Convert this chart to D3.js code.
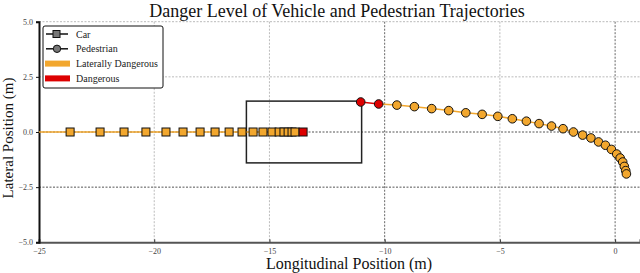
<!DOCTYPE html>
<html lang="en">
<head>
<meta charset="utf-8">
<script src="https://cdn.jsdelivr.net/npm/d3@7"></script>
<style type="text/css">
    body { margin: 0; background: #fff; }
    text { font-family: "Liberation Serif", "DejaVu Serif", serif; }
    .tick text { font-size: 8px; fill: #444; font-family: "Liberation Serif", serif; }
</style>
</head>
<body>
<script>
// car trajectory (y = 0), first point sits just left of the visible area
let carX = [-25.2, -23.65, -22.35, -21.31, -20.36, -19.49, -18.75, -18.01, -17.36, -16.75, -16.19,
            -15.71, -15.28, -14.89, -14.58, -14.37, -14.19, -14.02, -13.89, -13.54];
let carY = carX.map(() => 0);
let carLevel = ["lat", "lat", "lat", "lat", "lat", "lat", "lat", "lat", "lat", "lat", "lat",
                "lat", "lat", "lat", "lat", "lat", "lat", "lat", "lat", "dan"];

let pedX = [-11.04, -10.26, -9.47, -8.71, -7.96, -7.22, -6.48, -5.77, -5.09, -4.46, -3.85, -3.30, -2.76,
            -2.26, -1.81, -1.41, -1.05, -0.72, -0.42, -0.16, 0.07, 0.22, 0.33, 0.40, 0.46, 0.49];
let pedY = [1.36, 1.27, 1.22, 1.15, 1.06, 0.97, 0.87, 0.80, 0.71, 0.60, 0.49, 0.38, 0.27,
            0.15, 0.00, -0.14, -0.27, -0.45, -0.60, -0.79, -1.00, -1.18, -1.36, -1.56, -1.75, -1.90];
let pedLevel = ["dan", "dan"].concat(d3.range(24).map(() => "lat"));

// danger zone box
let zoneX = [-16, -11];
let zoneY = [-1.4, 1.4];

let xTicks = [-25, -20, -15, -10, -5, 0];
let yTicks = [-5, -2.5, 0, 2.5, 5];

let levelColor = { lat: "#f2a72e", dan: "#dd0000" };

let w = 640, h = 273;
let mLeft = 39, mRight = 640, mTop = 21.7, mBottom = 242.3;

let svg = d3.select("body").append("svg").attr("width", w).attr("height", h);

let xScale = d3.scaleLinear().domain([-25, 1.08]).range([mLeft, mRight]);
let yScale = d3.scaleLinear().domain([-5, 5]).range([mBottom, mTop]);

svg.append("defs").append("clipPath").attr("id", "plot")
    .append("rect").attr("x", mLeft).attr("y", mTop - 6).attr("width", mRight - mLeft).attr("height", mBottom - mTop + 6);

// grid
let grid = svg.append("g");
grid.selectAll(".vg").data(xTicks.slice(1)).enter().append("line")
    .attr("x1", d => xScale(d)).attr("x2", d => xScale(d))
    .attr("y1", mTop).attr("y2", mBottom)
    .attr("stroke", d => (d === -10 || d === 0) ? "#666" : "#bbb")
    .attr("stroke-width", 1).attr("stroke-dasharray", "2,1.5");
grid.selectAll(".hg").data(yTicks.slice(1)).enter().append("line")
    .attr("x1", mLeft).attr("x2", mRight)
    .attr("y1", d => yScale(d)).attr("y2", d => yScale(d))
    .attr("stroke", d => (d === 0 || d === -2.5) ? "#555" : "#bbb")
    .attr("stroke-width", 1).attr("stroke-dasharray", "2,1.5");

// axes
let xAxis = d3.axisBottom(xScale).tickValues(xTicks).tickFormat(d3.format("d")).tickSize(-3).tickPadding(6);
let yAxis = d3.axisLeft(yScale).tickValues(yTicks).tickFormat(d3.format(".1f")).tickSize(3).tickPadding(3);

let gx = svg.append("g").attr("transform", "translate(0," + mBottom + ")").call(xAxis);
gx.select(".domain").attr("stroke", "#555").attr("stroke-width", 2);
gx.selectAll(".tick line").attr("stroke", "#333");

let gy = svg.append("g").attr("transform", "translate(" + mLeft + ",0)").call(yAxis);
gy.select(".domain").attr("stroke", "#111").attr("stroke-width", 2);
gy.selectAll(".tick line").attr("stroke", "#111");

// zone rectangle
svg.append("rect")
    .attr("x", xScale(zoneX[0])).attr("y", yScale(zoneY[1]))
    .attr("width", xScale(zoneX[1]) - xScale(zoneX[0]))
    .attr("height", yScale(zoneY[0]) - yScale(zoneY[1]))
    .attr("fill", "none").attr("stroke", "#222").attr("stroke-width", 1.5);

let plot = svg.append("g").attr("clip-path", "url(#plot)");

function drawTrack(xs, ys, levels, shape) {
    let pts = xs.map((x, i) => ({ x: x, y: ys[i], level: levels[i] }));
    let segs = pts.slice(1).map((p, i) => ({ a: pts[i], b: p }));
    plot.selectAll(null).data(segs).enter().append("line")
        .attr("x1", d => xScale(d.a.x)).attr("y1", d => yScale(d.a.y))
        .attr("x2", d => xScale(d.b.x)).attr("y2", d => yScale(d.b.y))
        .attr("stroke", d => levelColor[d.a.level === "dan" && d.b.level === "dan" ? "dan" : "lat"])
        .attr("stroke-width", 1.5);
    if (shape === "square") {
        plot.selectAll(null).data(pts).enter().append("rect")
            .attr("x", d => xScale(d.x) - 4).attr("y", d => yScale(d.y) - 4)
            .attr("width", 8).attr("height", 8)
            .attr("fill", d => levelColor[d.level])
            .attr("stroke", "#111").attr("stroke-width", 1);
    } else {
        plot.selectAll(null).data(pts).enter().append("circle")
            .attr("cx", d => xScale(d.x)).attr("cy", d => yScale(d.y)).attr("r", 4.3)
            .attr("fill", d => levelColor[d.level])
            .attr("stroke", "#111").attr("stroke-width", 1);
    }
}
drawTrack(carX, carY, carLevel, "square");
drawTrack(pedX, pedY, pedLevel, "circle");

// title and labels
svg.append("text").attr("x", 337).attr("y", 17).attr("text-anchor", "middle")
    .attr("font-size", "18px").attr("fill", "#111")
    .text("Danger Level of Vehicle and Pedestrian Trajectories");
svg.append("text").attr("x", 349).attr("y", 269).attr("text-anchor", "middle")
    .attr("font-size", "16px").attr("fill", "#111")
    .text("Longitudinal Position (m)");
svg.append("text").attr("transform", "translate(13,138) rotate(-90)").attr("text-anchor", "middle")
    .attr("font-size", "15px").attr("fill", "#111")
    .text("Lateral Position (m)");

// legend
let legend = svg.append("g").attr("transform", "translate(43,26)");
legend.append("rect").attr("width", 120).attr("height", 62).attr("rx", 2)
    .attr("fill", "#fff").attr("stroke", "#111").attr("stroke-width", 1);
let legendItems = ["Car", "Pedestrian", "Laterally Dangerous", "Dangerous"];
legendItems.forEach((name, i) => {
    let y = 8 + i * 14.8;
    let g = legend.append("g").attr("transform", "translate(0," + y + ")");
    if (i < 2) {
        g.append("line").attr("x1", 3).attr("x2", 25).attr("stroke", "#111").attr("stroke-width", 1.5);
        if (i === 0) {
            g.append("rect").attr("x", 10).attr("y", -3.5).attr("width", 7).attr("height", 7)
                .attr("fill", "#777").attr("stroke", "#111");
        } else {
            g.append("circle").attr("cx", 14).attr("r", 3.7).attr("fill", "#777").attr("stroke", "#111");
        }
    } else {
        g.append("rect").attr("x", 2).attr("y", -3).attr("width", 25).attr("height", 6)
            .attr("fill", i === 2 ? levelColor.lat : levelColor.dan);
    }
    g.append("text").attr("x", 33).attr("y", 3.5).attr("font-size", "10px").attr("fill", "#222").text(name);
});
</script>
</body>
</html>
